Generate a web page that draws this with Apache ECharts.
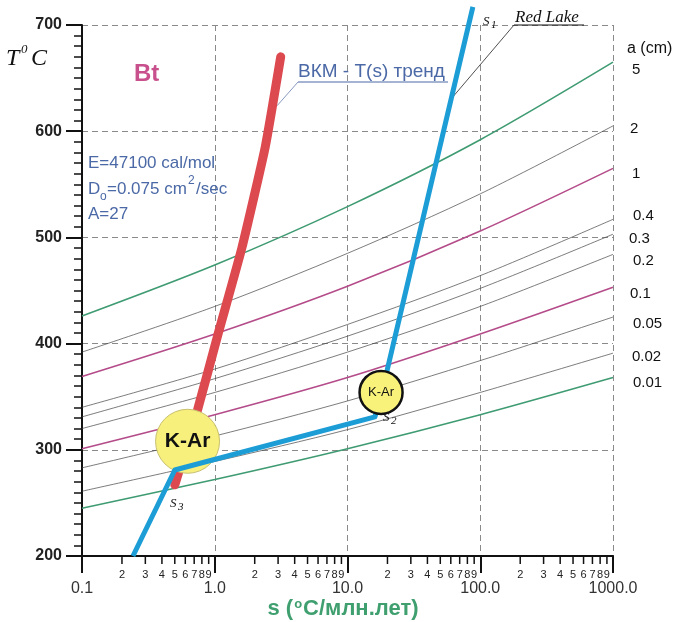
<!DOCTYPE html>
<html><head><meta charset="utf-8">
<script src="https://cdn.jsdelivr.net/npm/echarts@6/dist/echarts.min.js"></script>
<style>html,body{margin:0;padding:0;background:#fff}#c{width:678px;height:622px}</style>
</head><body><div id="c"></div>
<script>
// ---------- data ----------
const sValues = [0.1, 1, 10, 100, 1000];           // s, °C/Myr
const aLabels = ['5', '2', '1', '0.4', '0.3', '0.2', '0.1', '0.05', '0.02', '0.01'];
const T_a5   = [426, 474, 529, 592, 665];
const T_a2   = [392, 435, 485, 541, 605];
const T_a1   = [369, 409, 454, 506, 565];
const T_a04  = [340, 376, 418, 464, 517];
const T_a03  = [331, 367, 407, 452, 503];
const T_a02  = [320, 354, 392, 435, 484];
const T_a01  = [301, 333, 368, 409, 453];
const T_a005 = [283, 313, 346, 384, 425];
const T_a002 = [261, 289, 319, 354, 391];
const T_a001 = [245, 272, 301, 333, 368];
const curveTemps = [T_a5, T_a2, T_a1, T_a04, T_a03, T_a02, T_a01, T_a005, T_a002, T_a001];

const trendS = [0.50, 0.74, 1.07, 1.60, 2.40, 3.14];   // ВКМ - T(s) trend
const trendT = [267, 337, 411, 490, 585, 670];
const redLakeS = [0.242, 0.50, 16.1, 19.9, 88];        // Red Lake path
const redLakeT = [200, 281, 331, 375, 717];
const kArBig = [0.624, 308];
const kArSmall = [17.9, 354];

const xTickLabels = ['0.1', '1.0', '10.0', '100.0', '1000.0'];
const xMinorTicks = [0.2,0.3,0.4,0.5,0.6,0.7,0.8,0.9, 2,3,4,5,6,7,8,9, 20,30,40,50,60,70,80,90, 200,300,400,500,600,700,800,900];
const yTickValues = [200, 300, 400, 500, 600, 700];

// annotation anchors (data coords where leader lines touch the paths)
const trendLeaderAnchor = [2.95, 624];
const redLakeLeaderAnchor = [60, 630];

// ---------- styles ----------
const FONT = '"Liberation Sans", Arial, sans-serif';
const SERIF = '"Liberation Serif", "Times New Roman", serif';
const GREEN = '#3f9b72', MAG = '#b54c8a', THIN = '#444';
const curveStyles = [
  {c: GREEN, w: 1.6}, {c: THIN, w: 0.7}, {c: MAG, w: 1.6}, {c: THIN, w: 0.7}, {c: THIN, w: 0.7},
  {c: THIN, w: 0.7}, {c: MAG, w: 1.6}, {c: THIN, w: 0.7}, {c: THIN, w: 0.7}, {c: GREEN, w: 1.6}
];
const labelOffsets = [[19,8],[17,3],[19,5.5],[20,-3],[16,5],[20,6.5],[17,6.5],[20,7],[19,4],[20,5]];

const chart = echarts.init(document.getElementById('c'), null, {renderer: 'canvas'});

const series = curveTemps.map((temps, i) => ({
  type: 'line', name: aLabels[i], z: 2,
  data: sValues.map((s, k) => [s, temps[k]]),
  showSymbol: false, smooth: 0.3, silent: true,
  lineStyle: {color: curveStyles[i].c, width: curveStyles[i].w},
  endLabel: {show: true, formatter: aLabels[i], color: '#111', fontSize: 15, fontFamily: FONT,
    distance: 0, offset: labelOffsets[i], align: 'left', verticalAlign: 'middle'}
}));

series.push({
  type: 'line', name: 'trend', z: 3, showSymbol: false, smooth: 0.15, silent: true,
  data: trendS.map((s, k) => [s, trendT[k]]),
  lineStyle: {color: '#dc4a50', width: 9, cap: 'round', join: 'round'}
});
series.push({
  type: 'scatter', name: 'kArBig', z: 4, symbolSize: 64, silent: true,
  data: [kArBig],
  itemStyle: {color: '#f8f07c', borderColor: '#c8c070', borderWidth: 1, opacity: 1},
  label: {show: true, position: 'inside', formatter: 'K-Ar', fontSize: 21, fontWeight: 'bold', color: '#111', fontFamily: FONT}
});
series.push({
  type: 'line', name: 'redlake', z: 5, showSymbol: false, clip: false, silent: true,
  data: redLakeS.map((s, k) => [s, redLakeT[k]]),
  lineStyle: {color: '#1c9dd6', width: 5, join: 'round'}
});
series.push({
  type: 'scatter', name: 'kArSmall', z: 6, symbolSize: 43, silent: true,
  data: [kArSmall],
  itemStyle: {color: '#f9f27a', borderColor: '#111', borderWidth: 2.5, opacity: 1},
  label: {show: true, position: 'inside', formatter: 'K-Ar', fontSize: 13, color: '#111', fontFamily: FONT}
});

chart.setOption({
  animation: false,
  backgroundColor: '#fff',
  grid: {left: 82, right: 65, top: 25, bottom: 66},
  xAxis: {
    type: 'log', logBase: 10, min: 0.1, max: 1000,
    axisLine: {show: true, onZero: false, lineStyle: {color: '#111', width: 2}},
    axisTick: {show: true, length: 17, lineStyle: {color: '#111', width: 2}},
    axisLabel: {fontSize: 16, color: '#333', margin: 25, fontFamily: FONT,
      formatter: v => xTickLabels[Math.round(Math.log10(v)) + 1]},
    splitLine: {show: true, lineStyle: {color: '#8a8a8a', type: [6, 4], width: 1}}
  },
  yAxis: {
    type: 'value', min: 200, max: 700, interval: 100,
    axisLine: {show: true, lineStyle: {color: '#111', width: 2}},
    axisTick: {show: true, length: 16, lineStyle: {color: '#111', width: 2}},
    minorTick: {show: true, splitNumber: 10, length: 8, lineStyle: {color: '#111', width: 1.5}},
    axisLabel: {fontSize: 16, fontWeight: 'bold', color: '#222', margin: 20, fontFamily: FONT,
      formatter: v => String(yTickValues[yTickValues.indexOf(v)])},
    splitLine: {show: true, lineStyle: {color: '#8a8a8a', type: [6, 4], width: 1}}
  },
  series: series
});

// ---------- annotations ----------
const toPx = p => chart.convertToPixel({xAxisIndex: 0, yAxisIndex: 0}, p);
const axisY = toPx([1, 200])[1];
const g = [];
xMinorTicks.forEach(v => {
  const x = toPx([v, 200])[0];
  g.push({type: 'line', shape: {x1: x, y1: axisY, x2: x, y2: axisY + 8}, style: {stroke: '#111', lineWidth: 1.5}, silent: true});
  const d = Math.round(v / Math.pow(10, Math.floor(Math.log10(v) + 1e-9)));
  g.push({type: 'text', x: x, y: axisY + 19, style: {text: String(d), fontSize: 11, fill: '#222', fontFamily: FONT, align: 'center', verticalAlign: 'middle'}, silent: true});
});

const txt = (x, y, text, o) => g.push({type: 'text', x, y, silent: true, z: 100,
  style: Object.assign({text, fontFamily: FONT, fontSize: 16, fill: '#111', align: 'left', verticalAlign: 'middle'}, o || {})});

// T°C
txt(6, 59, 'T', {fontFamily: SERIF, fontStyle: 'italic', fontSize: 24});
txt(21, 50, '0', {fontFamily: SERIF, fontStyle: 'italic', fontSize: 13});
txt(31, 59, 'C', {fontFamily: SERIF, fontStyle: 'italic', fontSize: 24});
// Bt
txt(134, 74, 'Bt', {fontSize: 24, fontWeight: 'bold', fill: '#c8508c'});
// parameters
const BLUE_T = '#4b69a6';
txt(88, 163, 'E=47100 cal/mol', {fontSize: 17, fill: BLUE_T});
txt(88, 189, 'D', {fontSize: 17, fill: BLUE_T});
txt(100, 197, 'o', {fontSize: 12, fill: BLUE_T});
txt(107, 189, '=0.075 cm', {fontSize: 17, fill: BLUE_T});
txt(188, 181, '2', {fontSize: 12, fill: BLUE_T});
txt(196, 189, '/sec', {fontSize: 17, fill: BLUE_T});
txt(88, 214, 'A=27', {fontSize: 17, fill: BLUE_T});
// ВКМ label + underline + leader
txt(298, 72, 'ВКМ - T(s) тренд', {fontSize: 19, fill: BLUE_T});
g.push({type: 'line', silent: true, shape: {x1: 298, y1: 82, x2: 448, y2: 82}, style: {stroke: BLUE_T, lineWidth: 1}});
const tA = toPx(trendLeaderAnchor);
g.push({type: 'line', silent: true, shape: {x1: 298, y1: 82, x2: tA[0], y2: tA[1]}, style: {stroke: '#6a7fae', lineWidth: 0.8}});
// Red Lake
txt(515, 18, 'Red Lake', {fontFamily: SERIF, fontStyle: 'italic', fontSize: 17});
g.push({type: 'line', silent: true, shape: {x1: 514, y1: 25, x2: 584, y2: 25}, style: {stroke: '#111', lineWidth: 1}});
const rA = toPx(redLakeLeaderAnchor);
g.push({type: 'line', silent: true, shape: {x1: 514, y1: 25, x2: rA[0], y2: rA[1]}, style: {stroke: '#222', lineWidth: 0.8}});
// S labels
txt(483, 22, 'S', {fontFamily: SERIF, fontStyle: 'italic', fontSize: 13});
txt(491, 25, '1', {fontFamily: SERIF, fontStyle: 'italic', fontSize: 11});
txt(383, 418, 'S', {fontFamily: SERIF, fontStyle: 'italic', fontSize: 13});
txt(391, 421, '2', {fontFamily: SERIF, fontStyle: 'italic', fontSize: 11});
txt(170, 504, 'S', {fontFamily: SERIF, fontStyle: 'italic', fontSize: 13});
txt(178, 507, '3', {fontFamily: SERIF, fontStyle: 'italic', fontSize: 11});
// a (cm)
txt(627, 49, 'a (cm)', {fontSize: 16});
// x-axis title
g.push({type: 'text', x: 343, y: 609, silent: true,
  style: {text: '{b|s (}{o|o}{b|C/млн.лет)}', align: 'center', verticalAlign: 'middle',
    rich: {b: {fontSize: 22, fontWeight: 'bold', fill: '#3f9f6f', fontFamily: FONT},
           o: {fontSize: 13, fontWeight: 'bold', fill: '#3f9f6f', fontFamily: FONT, verticalAlign: 'top', padding: [0, 1, 8, 1]}}}});

chart.setOption({graphic: g});
</script></body></html>
